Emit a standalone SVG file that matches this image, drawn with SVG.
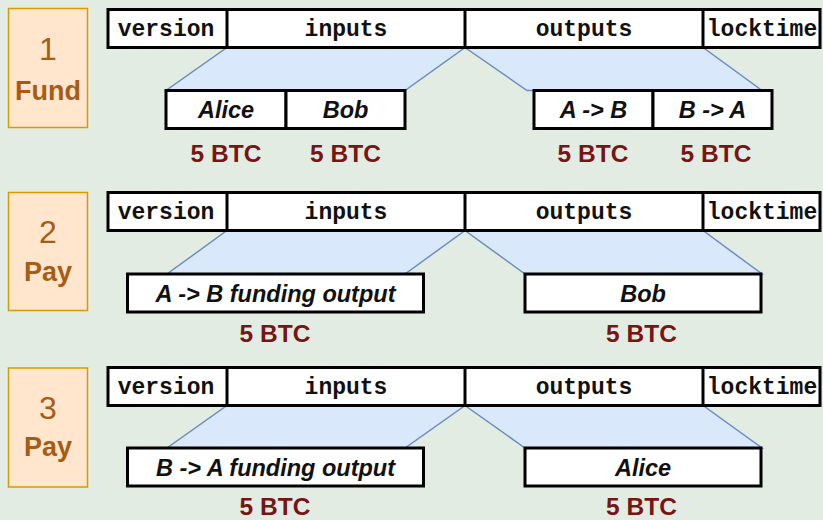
<svg xmlns="http://www.w3.org/2000/svg" width="823" height="520" viewBox="0 0 823 520">
  <style>
    .bg { fill: #e3ece3; }
    .step { fill: #ffe6cc; stroke: #d79b00; stroke-width: 1.5; }
    .num { font-family: "Liberation Sans", Arial, sans-serif; font-size: 32px; fill: #a65c17; text-anchor: middle; }
    .stepname { font-family: "Liberation Sans", Arial, sans-serif; font-size: 27px; font-weight: bold; fill: #a65c17; text-anchor: middle; }
    .field { fill: #ffffff; stroke: #000000; stroke-width: 3; }
    .div { stroke: #000000; stroke-width: 3; }
    .mono { font-family: "Liberation Mono", "Courier New", monospace; font-size: 23px; font-weight: bold; fill: #111111; text-anchor: middle; }
    .fan { fill: #dae8fc; stroke: #6c8ebf; stroke-width: 1.5; stroke-linejoin: miter; }
    .item { fill: #ffffff; stroke: #000000; stroke-width: 3; }
    .itext { font-family: "Liberation Sans", Arial, sans-serif; font-size: 23.5px; font-weight: bold; font-style: italic; fill: #111111; text-anchor: middle; }
    .btc { font-family: "Liberation Sans", Arial, sans-serif; font-size: 24.5px; font-weight: bold; fill: #781414; text-anchor: middle; }
  </style>

  <rect class="bg" x="0" y="0" width="823" height="520"/>

  <!-- fan-out shapes linking each transaction field to its entries -->
  <g id="connectors">
    <polygon class="fan" points="227,47.5 465,47.5 405,90.5 166,90.5"/>
    <polygon class="fan" points="465,47.5 703,47.5 762,90.5 527,90.5"/>
    <polygon class="fan" points="227,230.5 465,230.5 405,274 167,274"/>
    <polygon class="fan" points="465,230.5 703,230.5 762,274 525,274"/>
    <polygon class="fan" points="227,405.5 465,405.5 405,448 167,448"/>
    <polygon class="fan" points="465,405.5 703,405.5 762,448 525,448"/>
  </g>

  <!-- step 1: funding transaction -->
  <g id="step1">
    <rect class="step" x="8.5" y="8.5" width="79" height="119"/>
    <text class="num" x="48" y="60">1</text>
    <text class="stepname" x="48" y="100">Fund</text>
  </g>
  <g id="tx1">
    <rect class="field" x="108" y="9.5" width="712" height="38"/>
    <line class="div" x1="227" y1="9.5" x2="227" y2="47.5"/>
    <line class="div" x1="465" y1="9.5" x2="465" y2="47.5"/>
    <line class="div" x1="703" y1="9.5" x2="703" y2="47.5"/>
    <text class="mono" x="166" y="36">version</text>
    <text class="mono" x="346" y="36">inputs</text>
    <text class="mono" x="584" y="36">outputs</text>
    <text class="mono" x="762" y="36">locktime</text>
  </g>
  <g id="tx1-in-alice">
    <rect class="item" x="166" y="90.5" width="120" height="38"/>
    <text class="itext" x="226" y="118">Alice</text>
    <text class="btc" x="226" y="162">5 BTC</text>
  </g>
  <g id="tx1-in-bob">
    <rect class="item" x="286" y="90.5" width="119" height="38"/>
    <text class="itext" x="345.5" y="118">Bob</text>
    <text class="btc" x="345.5" y="162">5 BTC</text>
  </g>
  <g id="tx1-out-ab">
    <rect class="item" x="534" y="90.5" width="119" height="38"/>
    <text class="itext" x="593.5" y="118">A -&gt; B</text>
    <text class="btc" x="593" y="162">5 BTC</text>
  </g>
  <g id="tx1-out-ba">
    <rect class="item" x="653" y="90.5" width="119" height="38"/>
    <text class="itext" x="712.5" y="118">B -&gt; A</text>
    <text class="btc" x="716" y="162">5 BTC</text>
  </g>

  <!-- step 2: payment spending the A -> B output -->
  <g id="step2">
    <rect class="step" x="8.5" y="192.5" width="79" height="118"/>
    <text class="num" x="48" y="243">2</text>
    <text class="stepname" x="48" y="281">Pay</text>
  </g>
  <g id="tx2">
    <rect class="field" x="108" y="192.5" width="712" height="38"/>
    <line class="div" x1="227" y1="192.5" x2="227" y2="230.5"/>
    <line class="div" x1="465" y1="192.5" x2="465" y2="230.5"/>
    <line class="div" x1="703" y1="192.5" x2="703" y2="230.5"/>
    <text class="mono" x="166" y="219">version</text>
    <text class="mono" x="346" y="219">inputs</text>
    <text class="mono" x="584" y="219">outputs</text>
    <text class="mono" x="762" y="219">locktime</text>
  </g>
  <g id="tx2-in">
    <rect class="item" x="127.5" y="274" width="296" height="38"/>
    <text class="itext" x="275.5" y="302">A -&gt; B funding output</text>
    <text class="btc" x="275" y="342">5 BTC</text>
  </g>
  <g id="tx2-out">
    <rect class="item" x="525" y="274" width="236" height="38"/>
    <text class="itext" x="643" y="302">Bob</text>
    <text class="btc" x="641.5" y="342">5 BTC</text>
  </g>

  <!-- step 3: payment spending the B -> A output -->
  <g id="step3">
    <rect class="step" x="8.5" y="368" width="79" height="119"/>
    <text class="num" x="48" y="419">3</text>
    <text class="stepname" x="48" y="456">Pay</text>
  </g>
  <g id="tx3">
    <rect class="field" x="108" y="367.5" width="712" height="38"/>
    <line class="div" x1="227" y1="367.5" x2="227" y2="405.5"/>
    <line class="div" x1="465" y1="367.5" x2="465" y2="405.5"/>
    <line class="div" x1="703" y1="367.5" x2="703" y2="405.5"/>
    <text class="mono" x="166" y="394">version</text>
    <text class="mono" x="346" y="394">inputs</text>
    <text class="mono" x="584" y="394">outputs</text>
    <text class="mono" x="762" y="394">locktime</text>
  </g>
  <g id="tx3-in">
    <rect class="item" x="127.5" y="448" width="296" height="38"/>
    <text class="itext" x="275.5" y="476">B -&gt; A funding output</text>
    <text class="btc" x="275" y="515">5 BTC</text>
  </g>
  <g id="tx3-out">
    <rect class="item" x="525" y="448" width="236" height="38"/>
    <text class="itext" x="643" y="476">Alice</text>
    <text class="btc" x="641.5" y="515">5 BTC</text>
  </g>
</svg>
